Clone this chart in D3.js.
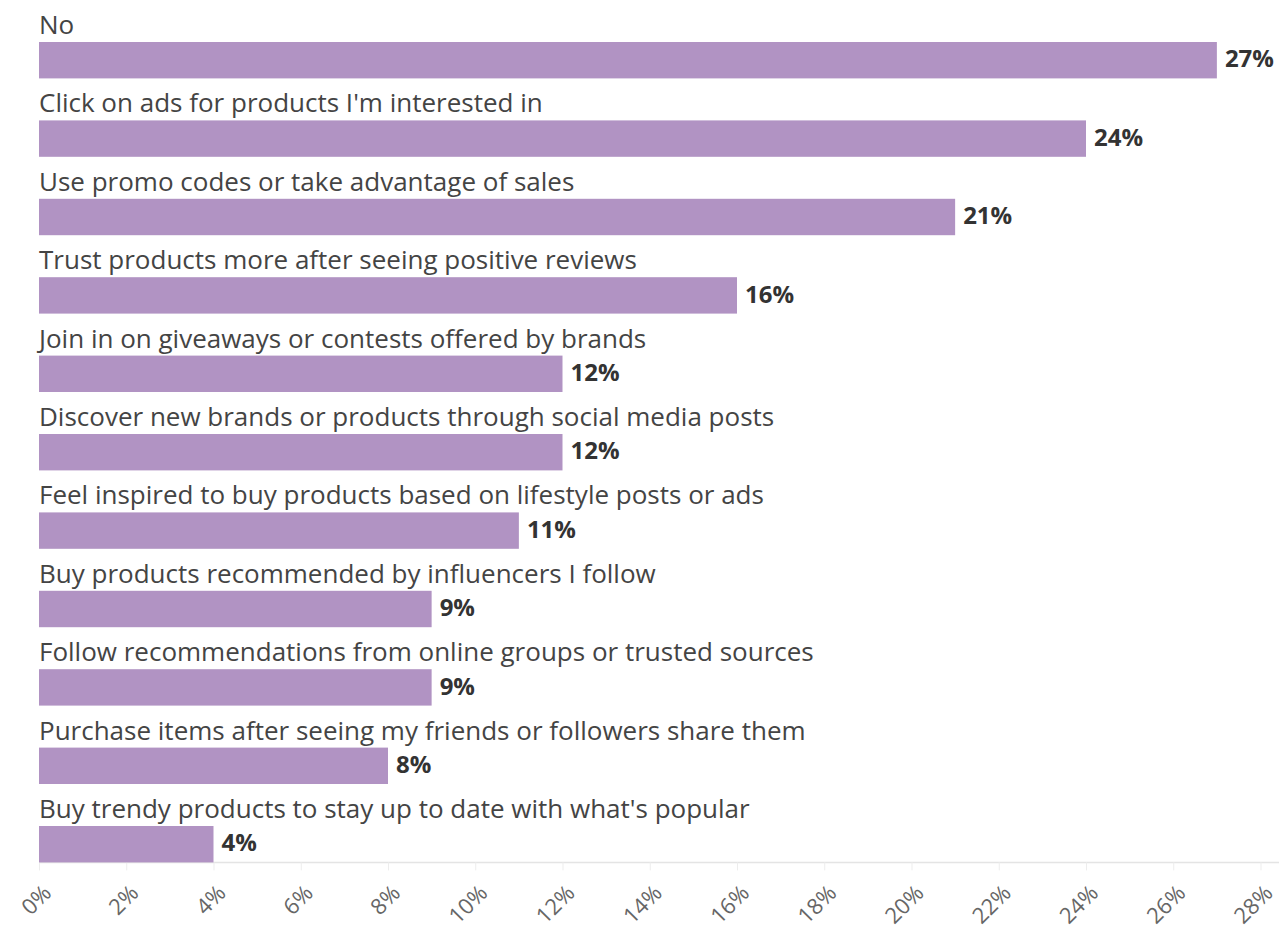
<!DOCTYPE html>
<html>
<head>
<meta charset="utf-8">
<script src="https://cdn.jsdelivr.net/npm/d3@7"></script>
<style>
  html, body { margin: 0; padding: 0; background: #ffffff; }
  svg { display: block; }
</style>
</head>
<body>
<svg id="chart" width="1279" height="930"></svg>
<script>
// Survey answers and their shares (percent)
const categories = [
  "No",
  "Click on ads for products I'm interested in",
  "Use promo codes or take advantage of sales",
  "Trust products more after seeing positive reviews",
  "Join in on giveaways or contests offered by brands",
  "Discover new brands or products through social media posts",
  "Feel inspired to buy products based on lifestyle posts or ads",
  "Buy products recommended by influencers I follow",
  "Follow recommendations from online groups or trusted sources",
  "Purchase items after seeing my friends or followers share them",
  "Buy trendy products to stay up to date with what's popular"
];
const values = [27, 24, 21, 16, 12, 12, 11, 9, 9, 8, 4];
const tickValues = [0, 2, 4, 6, 8, 10, 12, 14, 16, 18, 20, 22, 24, 26, 28];

const svg = d3.select("#chart");
const FONT = "'Open Sans', 'Source Sans Pro', sans-serif";

const plotLeft = 39, plotRight = 1260.5;
const plotTop = 0, plotBottom = 862.4;
const barH = 36.4;

const x = d3.scaleLinear().domain([0, 28]).range([plotLeft, plotRight]);
const y = d3.scaleBand().domain(categories).range([plotTop, plotBottom]).padding(0);
const step = y.step();

// Axis baseline and ticks
const axis = svg.append("g").attr("transform", `translate(0,${plotBottom})`);
axis.append("line")
  .attr("x1", plotLeft).attr("x2", 1279)
  .attr("stroke", "#e4e4e4").attr("stroke-width", 1.5);

const xAxis = d3.axisBottom(x)
  .tickValues(tickValues)
  .tickFormat(d => d + "%")
  .tickSize(8)
  .tickPadding(4);
const ax = axis.append("g").call(xAxis);
ax.select(".domain").remove();
ax.selectAll(".tick line").attr("stroke", "#ededed");
ax.selectAll(".tick text")
  .attr("x", 0).attr("y", 0).attr("dy", 0)
  .attr("font-family", FONT)
  .attr("font-size", 22)
  .attr("fill", "#666")
  .attr("text-anchor", "end")
  .attr("transform", "translate(13,32) rotate(-45)");

// Bars
const rows = svg.append("g").selectAll("g.row")
  .data(categories.map((c, i) => ({ c, v: values[i] })))
  .join("g").attr("class", "row");

rows.append("rect")
  .attr("x", x(0))
  .attr("y", d => y(d.c) + step - barH)
  .attr("width", d => x(d.v) - x(0))
  .attr("height", barH)
  .attr("fill", "#b193c3");

// Category labels above each bar
rows.append("text")
  .attr("x", x(0))
  .attr("y", d => y(d.c) + step - barH - 8)
  .attr("font-family", FONT)
  .attr("font-size", 26)
  .attr("fill", "#444")
  .text(d => d.c);

// Value labels right of each bar
rows.append("text")
  .attr("x", d => x(d.v) + 8)
  .attr("y", d => y(d.c) + step - 11)
  .attr("font-family", FONT)
  .attr("font-size", 24)
  .attr("font-weight", "bold")
  .attr("fill", "#333")
  .text(d => d.v + "%");
</script>
</body>
</html>
